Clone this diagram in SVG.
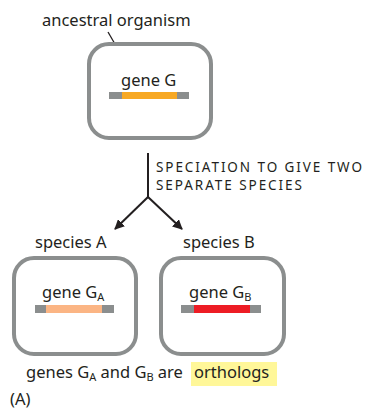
<svg xmlns="http://www.w3.org/2000/svg" width="371" height="417" viewBox="0 0 371 417">
<style>
.t{font-family:"Noto Sans","Liberation Sans",Arial,sans-serif;font-size:16.5px;fill:#231f20}
.cap{font-family:"Noto Sans","Liberation Sans",Arial,sans-serif;font-size:13.5px;fill:#231f20}
.sub{font-size:11px}
.box{fill:#fff;stroke:#8b8e8e;stroke-width:4}
.end{fill:#8b8e8e}
.con{stroke:#231f20;stroke-width:2;fill:none}
</style>
<defs>
<marker id="ah" viewBox="0 0 10 10" refX="9" refY="5" markerWidth="5" markerHeight="5" orient="auto">
<path d="M0,0 L10,5 L0,10 z" fill="#231f20"/>
</marker>
</defs>
<rect width="371" height="417" fill="#fff"/>
<g id="ancestral">
<text class="t" x="42" y="26">ancestral organism</text>
<line x1="108" y1="32" x2="119" y2="51" stroke="#231f20" stroke-width="1.3"/>
<rect class="box" x="89" y="44" width="122" height="94" rx="20"/>
<text class="t" x="121" y="86">gene G</text>
<rect class="end" x="109" y="92" width="80" height="7"/>
<rect fill="#f7a823" x="122" y="92" width="55" height="7"/>
</g>
<g id="connectors">
<path class="con" d="M148,153 V197"/>
<path class="con" d="M148,197 L115,229" marker-end="url(#ah)"/>
<path class="con" d="M148,197 L182,229" marker-end="url(#ah)"/>
<text class="cap" x="156" y="171.5" textLength="206" lengthAdjust="spacing">SPECIATION TO GIVE TWO</text>
<text class="cap" x="156" y="190" textLength="146" lengthAdjust="spacing">SEPARATE SPECIES</text>
</g>
<g id="speciesA">
<text class="t" x="35" y="248">species A</text>
<rect class="box" x="14" y="258" width="122" height="96" rx="20"/>
<text class="t" x="42" y="298">gene G<tspan class="sub" dy="3">A</tspan></text>
<rect class="end" x="35" y="305" width="79" height="8"/>
<rect fill="#fbb584" x="46" y="305" width="56" height="8"/>
</g>
<g id="speciesB">
<text class="t" x="183" y="248">species B</text>
<rect class="box" x="161" y="258" width="123" height="96" rx="20"/>
<text class="t" x="189" y="298">gene G<tspan class="sub" dy="3">B</tspan></text>
<rect class="end" x="181" y="305" width="80" height="8"/>
<rect fill="#ed1c24" x="194" y="305" width="56" height="8"/>
</g>
<g id="caption">
<rect fill="#fff799" x="191" y="362" width="86" height="24"/>
<text class="t" x="26" y="378">genes G<tspan class="sub" dy="3">A</tspan><tspan dy="-3"> and G</tspan><tspan class="sub" dy="3">B</tspan><tspan dy="-3"> are </tspan><tspan x="194">orthologs</tspan></text>
<text class="t" x="10" y="405">(A)</text>
</g>
</svg>
